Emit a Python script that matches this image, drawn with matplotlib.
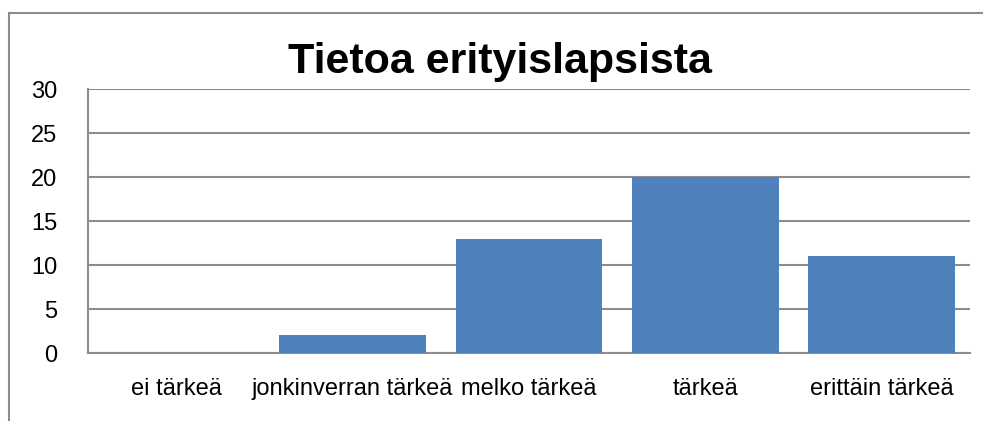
import matplotlib.pyplot as plt
from matplotlib.patches import Rectangle

categories = ["ei tärkeä", "jonkinverran tärkeä", "melko tärkeä", "tärkeä", "erittäin tärkeä"]
values = [0, 2, 13, 20, 11]
yticks = [0, 5, 10, 15, 20, 25, 30]

plt.rcParams['font.family'] = ['Liberation Sans', 'DejaVu Sans']

W, H = 983, 421
fig = plt.figure(figsize=(W / 100, H / 100), dpi=100)

# outer chart border (runs off the right and bottom edges)
fig.patches.append(Rectangle((9 / W, -0.1), 1.1, (H - 13) / H + 0.1, transform=fig.transFigure,
                             fill=False, edgecolor='#8c8c8c', linewidth=1.5))

ax = fig.add_axes([88 / W, 1 - 353 / H, (970 - 88) / W, (353 - 89) / H])
ax.bar(range(len(categories)), values, width=0.833, color='#4f81bd', zorder=3)
ax.set_xlim(-0.5, len(categories) - 0.5)
ax.set_ylim(0, 30)
ax.set_yticks(yticks)
ax.set_xticks(range(len(categories)))
ax.set_xticklabels(categories)
ax.yaxis.grid(True, color='#8c8c8c', linewidth=1.5, zorder=0)
ax.tick_params(axis='both', length=0, labelsize=17, colors='black')
ax.tick_params(axis='x', pad=18)
ax.tick_params(axis='y', pad=22)
for s in ['top', 'right']:
    ax.spines[s].set_visible(False)
for s in ['left', 'bottom']:
    ax.spines[s].set_color('#8c8c8c')
    ax.spines[s].set_linewidth(1.5)

fig.text(500 / W, 1 - 62 / H, "Tietoa erityislapsista", ha='center', va='center',
         fontsize=31, fontweight='bold')

fig.savefig('out.png', dpi=100)
